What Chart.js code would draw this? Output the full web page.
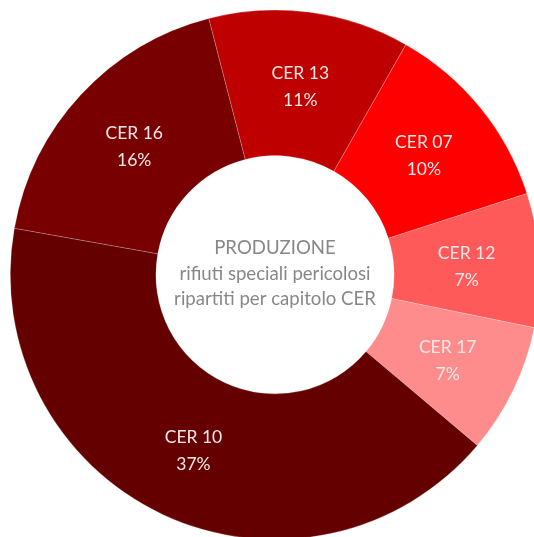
<!DOCTYPE html>
<html><head><meta charset="utf-8">
<script src="https://cdn.jsdelivr.net/npm/chart.js@4/dist/chart.umd.min.js"></script>
<style>html,body{margin:0;padding:0;background:#fff;overflow:hidden;width:534px;height:537px;}#wrap{position:absolute;left:0;top:0;width:540px;height:540px;}</style>
</head><body><div id="wrap"><canvas id="c"></canvas></div>
<script>
const categories = ['CER 13', 'CER 07', 'CER 12', 'CER 17', 'CER 10', 'CER 16'];
const values = [10.8, 10.4, 7.2, 7.0, 36.7, 16.0];
const percentLabels = ['11%', '10%', '7%', '7%', '37%', '16%'];
const colors = ['#BE0000', '#FF0000', '#FF5A5A', '#FF8C8C', '#640000', '#780000'];
const centerLines = ['PRODUZIONE', 'rifiuti speciali pericolosi', 'ripartiti per capitolo CER'];
const FONT = 'Lato, "Liberation Sans", sans-serif';

const labelPlugin = {
  id: 'arcLabels',
  afterDatasetsDraw(chart) {
    const ctx = chart.ctx;
    const meta = chart.getDatasetMeta(0);
    ctx.save();
    ctx.fillStyle = '#F6E8E8';
    ctx.font = '17.5px ' + FONT;
    ctx.textAlign = 'center';
    ctx.textBaseline = 'middle';
    meta.data.forEach((arc, i) => {
      const p = arc.getCenterPoint();
      ctx.fillText(categories[i], p.x, p.y - 11);
      ctx.fillText(percentLabels[i], p.x, p.y + 16);
    });
    const a = meta.data[0];
    ctx.fillStyle = '#878787';
    ctx.font = '18.6px ' + FONT;
    centerLines.forEach((t, i) => ctx.fillText(t, a.x, a.y - 26.5 + i * 25.5));
    ctx.restore();
  }
};

new Chart(document.getElementById('c'), {
  type: 'doughnut',
  data: { labels: categories, datasets: [{ data: values, backgroundColor: colors, borderColor: 'rgba(255,255,255,0.35)', borderWidth: 0.6, hoverOffset: 0 }] },
  options: {
    responsive: true, maintainAspectRatio: false, animation: false,
    rotation: -14.5, cutout: '45%',
    layout: { padding: { left: 10, right: 0, top: 9.5, bottom: 0 } },
    plugins: { legend: { display: false }, tooltip: { enabled: false } }
  },
  plugins: [labelPlugin]
});
</script></body></html>
